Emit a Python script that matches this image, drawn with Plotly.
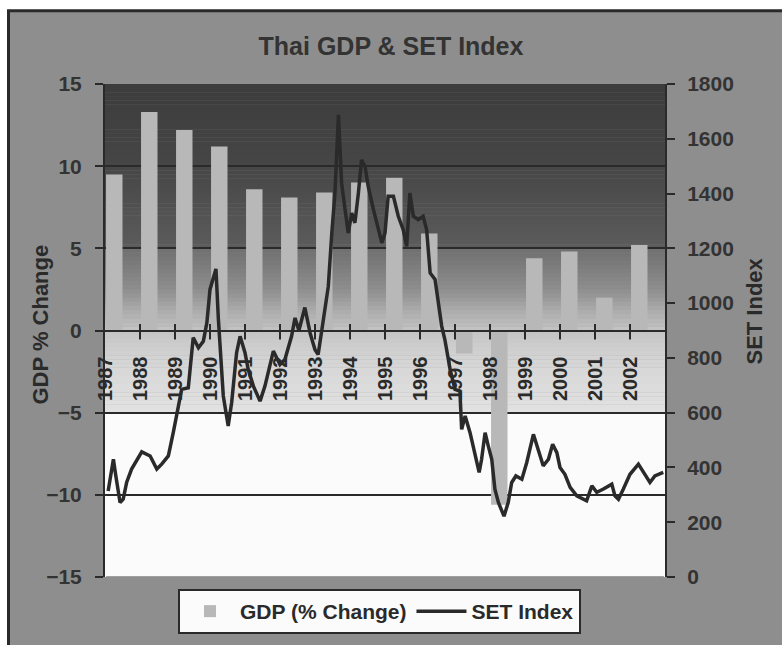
import plotly.graph_objects as go

# ---------------- data ----------------
years = list(range(1987, 2003))
year_labels = [str(y) for y in years]
gdp_change = [9.5, 13.3, 12.2, 11.2, 8.6, 8.1, 8.4, 9.0, 9.3, 5.9,
              -1.4, -10.6, 4.4, 4.8, 2.0, 5.2]

set_time = [
    1987.09, 1987.24, 1987.31, 1987.43, 1987.52, 1987.62, 1987.76,
    1988.05, 1988.29, 1988.48, 1988.62, 1988.81, 1988.95,
    1989.09, 1989.19, 1989.38, 1989.52, 1989.67, 1989.81, 1989.91,
    1990.00, 1990.17, 1990.24, 1990.38, 1990.52, 1990.62, 1990.76, 1990.86,
    1991.00, 1991.09, 1991.24, 1991.43, 1991.57, 1991.81,
    1992.00, 1992.14, 1992.33, 1992.43, 1992.54, 1992.71, 1992.86,
    1993.00, 1993.09, 1993.24, 1993.38, 1993.48, 1993.57, 1993.67, 1993.76, 1993.86, 1993.95,
    1994.05, 1994.14, 1994.24, 1994.33, 1994.43, 1994.52, 1994.67, 1994.81, 1994.91,
    1995.00, 1995.09, 1995.24, 1995.38, 1995.52, 1995.62, 1995.71, 1995.81, 1995.95,
    1996.09, 1996.19, 1996.29, 1996.43, 1996.52, 1996.62, 1996.71, 1996.86,
    1997.00, 1997.14, 1997.19, 1997.29, 1997.43, 1997.57, 1997.69, 1997.76, 1997.86, 1997.95,
    1998.05, 1998.14, 1998.24, 1998.40, 1998.52, 1998.62, 1998.74, 1998.91,
    1999.05, 1999.24, 1999.38, 1999.52, 1999.67, 1999.79, 1999.91,
    2000.00, 2000.14, 2000.29, 2000.48, 2000.67, 2000.76, 2000.91,
    2001.05, 2001.24, 2001.48, 2001.57, 2001.67, 2001.81,
    2002.00, 2002.24, 2002.38, 2002.57, 2002.71, 2002.95,
]
set_index = [
    314, 430, 369, 272, 284, 346, 394,
    457, 442, 394, 412, 442, 527,
    612, 685, 691, 874, 837, 861, 928,
    1050, 1125, 940, 661, 551, 638, 819, 879,
    819, 758, 697, 642, 697, 825,
    776, 794, 879, 946, 900, 984, 891,
    830, 812, 940, 1061, 1256, 1402, 1687, 1438, 1341, 1256,
    1329, 1293, 1402, 1523, 1499, 1426, 1341, 1268, 1220,
    1256, 1390, 1390, 1317, 1268, 1207, 1402, 1317, 1305,
    1317, 1268, 1110, 1086, 1013, 916, 867, 758,
    685, 679, 539, 588, 527, 454, 382, 430, 527, 479,
    430, 321, 272, 222, 272, 345, 369, 357,
    418, 521, 466, 406, 430, 485, 454,
    400, 375, 327, 296, 284, 278, 333,
    309, 321, 339, 296, 284, 321,
    375, 412, 382, 345, 369, 382,
]

gdp_ticks = [-15, -10, -5, 0, 5, 10, 15]
set_ticks = list(range(0, 1801, 200))

# ---------------- layout geometry (pixels) ----------------
W, H = 782, 645
L, R, T, B = 105, 665, 84, 578
PW, PH = R - L, B - T


def px_x(X):
    return (X - L) / PW


def px_y(Y):
    return (B - Y) / PH


DARK = '#2a2a2a'
FONT = 'Liberation Sans, Arial, sans-serif'
NARROW = 'Liberation Sans Narrow, Arial Narrow, Liberation Sans, Arial, sans-serif'

fig = go.Figure()

fig.add_trace(go.Bar(
    x=years, y=gdp_change, width=0.47, offset=0.03,
    marker=dict(color='#b8b8b8', line=dict(width=0)),
    name='GDP (% Change)', xaxis='x', yaxis='y', hoverinfo='x+y'))

fig.add_trace(go.Scatter(
    x=set_time, y=set_index, mode='lines',
    line=dict(color=DARK, width=3.5),
    name='SET Index', xaxis='x', yaxis='y2'))

# ---------------- background shapes ----------------
shapes = []
# outer frame
shapes.append(dict(type='rect', xref='paper', yref='paper', layer='below',
                   x0=px_x(8.5), x1=px_x(800), y0=px_y(660), y1=px_y(10.5),
                   fillcolor='#8e8e8e', line=dict(color=DARK, width=3)))

# gradient key points (gdp value -> gray level)
keys = [(15, 60), (10, 70), (5.02, 92), (4.98, 112), (2.5, 142), (1, 176),
        (0, 196), (-2, 214), (-5, 226)]


def gray_at(v):
    for (a, ga), (b, gb) in zip(keys[:-1], keys[1:]):
        if b <= v <= a:
            t = (a - v) / (a - b) if a != b else 0
            return int(round(ga + (gb - ga) * t))
    return keys[-1][1]


step = 0.25
v = 15.0
while v > -5.0 + 1e-9:
    g = gray_at(v - step / 2)
    shapes.append(dict(type='rect', xref='paper', yref='y', layer='below',
                       x0=0, x1=1, y0=v - step - 0.02, y1=v,
                       fillcolor=f'rgb({g},{g},{g})', line=dict(width=0)))
    v -= step
shapes.append(dict(type='rect', xref='paper', yref='y', layer='below',
                   x0=0, x1=1, y0=-15, y1=-5,
                   fillcolor='#fbfbfb', line=dict(width=0)))
# lighter bottom edge of the plot area
shapes.append(dict(type='line', xref='paper', yref='y', layer='above',
                   x0=0.002, x1=0.998, y0=-15, y1=-15,
                   line=dict(color='#a0a0a0', width=2)))
# crossing tick marks of the category axis (at each category boundary)
for yr in years[1:]:
    shapes.append(dict(type='line', xref='x', yref='y', layer='above',
                       x0=yr, x1=yr, y0=-0.55, y1=0.4,
                       line=dict(color=DARK, width=2)))

annotations = [
    dict(text='GDP % Change', xref='paper', yref='paper',
         x=px_x(41), y=px_y(325), textangle=-90, showarrow=False,
         xanchor='center', yanchor='middle',
         font=dict(size=22, family=FONT, color=DARK, weight='bold')),
    dict(text='SET Index', xref='paper', yref='paper',
         x=px_x(755), y=px_y(312), textangle=-90, showarrow=False,
         xanchor='center', yanchor='middle',
         font=dict(size=22, family=FONT, color=DARK, weight='bold')),
]

fig.update_layout(
    width=W, height=H,
    margin=dict(l=L, r=W - R, t=T, b=H - B, pad=0),
    paper_bgcolor='white', plot_bgcolor='rgba(0,0,0,0)',
    font=dict(family=FONT, color=DARK, size=20, weight='bold'),
    title=dict(text='Thai GDP & SET Index', x=0.5, xref='container', xanchor='center',
               y=1 - 46 / H, yref='container', yanchor='middle',
               font=dict(size=25, family=FONT, color='#333333', weight='bold')),
    xaxis=dict(range=[1987, 2003], tickmode='array', tickvals=years, ticktext=year_labels,
               tickangle=-90, ticks='', showline=True, linecolor=DARK, linewidth=2,
               anchor='free', position=0.5, showgrid=False, zeroline=False,
               ticklabelstandoff=17, tickfont=dict(size=20, color=DARK)),
    yaxis=dict(range=[-15, 15], tickmode='array', tickvals=gdp_ticks,
               ticks='outside', ticklen=8, tickwidth=2, tickcolor=DARK,
               showline=True, linecolor=DARK, linewidth=2,
               showgrid=True, gridcolor=DARK, gridwidth=1.5, zeroline=False,
               ticklabelstandoff=9, tickfont=dict(size=21, color='#333333')),
    yaxis2=dict(range=[0, 1800], tickmode='array', tickvals=set_ticks,
                overlaying='y', side='right', ticks='outside', ticklen=8,
                tickwidth=2, tickcolor=DARK, showline=True, linecolor=DARK, linewidth=2,
                showgrid=False, zeroline=False, ticklabelstandoff=8,
                tickfont=dict(size=21, color='#333333')),
    legend=dict(orientation='h', x=px_x(178), xanchor='left', y=px_y(589), yanchor='top',
                bgcolor='#fbfbfb', bordercolor=DARK, borderwidth=2,
                font=dict(size=21, family=NARROW, color=DARK, weight='bold'),
                itemwidth=50),
    shapes=shapes,
    annotations=annotations,
    showlegend=True,
    hovermode='closest',
)

fig.write_html('out.html')
